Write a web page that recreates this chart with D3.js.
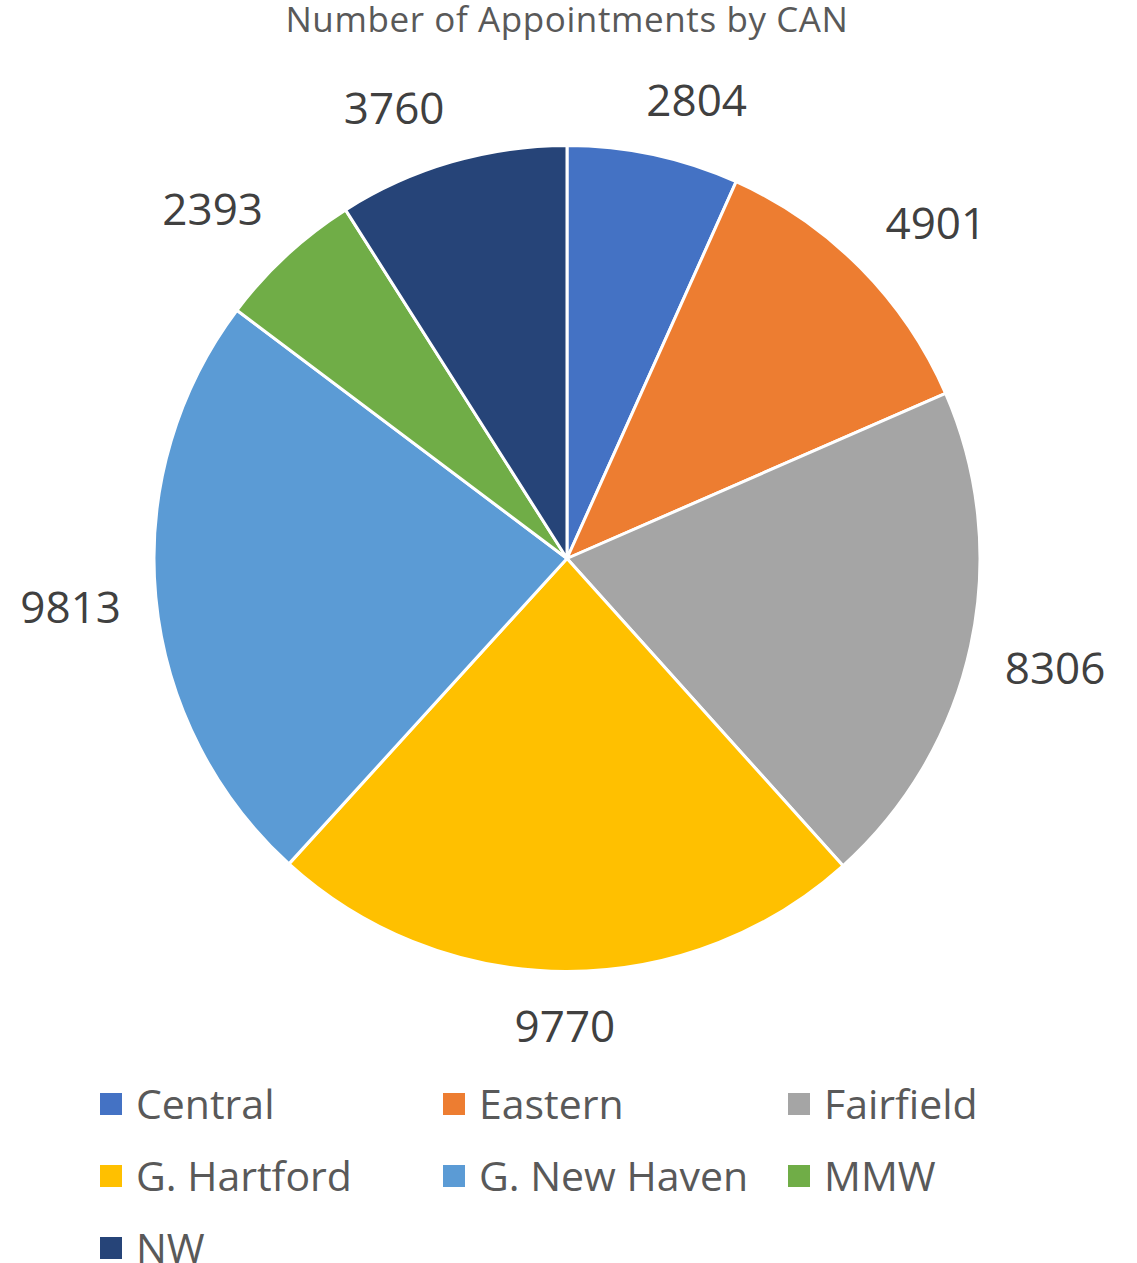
<!DOCTYPE html>
<html>
<head>
<meta charset="utf-8">
<script src="https://cdn.jsdelivr.net/npm/d3@7"></script>
<style>
  html, body { margin: 0; padding: 0; background: #fff; }
  svg { display: block; font-family: "Open Sans", sans-serif; }
</style>
</head>
<body>
<svg id="chart" width="1137" height="1263"></svg>
<script>
  var title = 'Number of Appointments by CAN';
  var categories = ['Central', 'Eastern', 'Fairfield', 'G. Hartford', 'G. New Haven', 'MMW', 'NW'];
  var values = [2804, 4901, 8306, 9770, 9813, 2393, 3760];
  var colors = ['#4472C4', '#ED7D31', '#A5A5A5', '#FFC000', '#5B9BD5', '#70AD47', '#264478'];

  var width = 1137;
  var cx = 567, cy = 558.5, radius = 413;

  var svg = d3.select('#chart');

  /* title */
  svg.append('text')
    .attr('x', cx)
    .attr('y', 32)
    .attr('text-anchor', 'middle')
    .style('font-size', '35px')
    .style('letter-spacing', '0.6px')
    .style('fill', '#595959')
    .text(title);

  var rows = categories.map(function(c, i) {
    return { name: c, value: values[i], color: colors[i] };
  });

  var pie = d3.pie()
    .sort(null)
    .value(function(d) { return d.value; });

  var arc = d3.arc()
    .innerRadius(0)
    .outerRadius(radius);

  var arcs = pie(rows);

  var g = svg.append('g')
    .attr('transform', 'translate(' + cx + ',' + cy + ')');

  g.selectAll('.slice')
    .data(arcs)
    .enter().append('path')
      .attr('class', 'slice')
      .attr('d', arc)
      .attr('fill', function(d) { return d.data.color; })
      .attr('stroke', '#fff')
      .attr('stroke-width', 3)
      .attr('stroke-linejoin', 'round');

  /* data labels, pushed out so the text box clears the pie */
  var labelRadius = radius + 35;
  var clamp = function(t) { return Math.max(-1, Math.min(1, t * 3.4)); };

  var labels = g.selectAll('.label')
    .data(arcs)
    .enter().append('text')
      .attr('class', 'label')
      .attr('text-anchor', 'middle')
      .attr('dy', '0.357em')
      .style('font-size', '44px')
      .style('fill', '#404040')
      .text(function(d) { return d.data.value; });

  labels.each(function(d) {
    var a = (d.startAngle + d.endAngle) / 2;
    var s = Math.sin(a), c = Math.cos(a);
    var hw = this.getComputedTextLength() / 2;
    var hh = 20;
    d3.select(this)
      .attr('x', labelRadius * s + hw * clamp(s))
      .attr('y', -labelRadius * c - hh * clamp(c));
  });

  /* legend */
  var legendX = d3.scaleOrdinal().domain([0, 1, 2]).range([100, 443, 788]);
  var legendY = d3.scaleLinear().domain([0, 1]).range([1104, 1176]);
  var sw = 22;

  var legend = svg.append('g').attr('class', 'legend')
    .selectAll('.item')
    .data(rows)
    .enter().append('g')
      .attr('class', 'item')
      .attr('transform', function(d, i) {
        return 'translate(' + legendX(i % 3) + ',' + legendY(Math.floor(i / 3)) + ')';
      });

  legend.append('rect')
    .attr('x', 0)
    .attr('y', -sw / 2)
    .attr('width', sw)
    .attr('height', sw)
    .attr('fill', function(d) { return d.color; });

  legend.append('text')
    .attr('x', 36)
    .attr('y', 14.5)
    .style('font-size', '41px')
    .style('fill', '#595959')
    .text(function(d) { return d.name; });
</script>
</body>
</html>
